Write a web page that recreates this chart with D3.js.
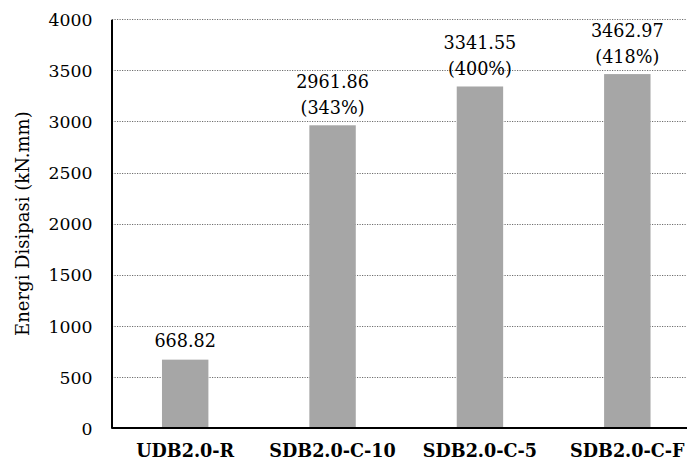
<!DOCTYPE html>
<html>
<head>
<meta charset="utf-8">
<script src="https://cdn.jsdelivr.net/npm/d3@7"></script>
<style>
  html, body { margin: 0; padding: 0; background: #fff; }
  svg { display: block; }
</style>
</head>
<body>
<script>
const categories = ["UDB2.0-R", "SDB2.0-C-10", "SDB2.0-C-5", "SDB2.0-C-F"];
const values = [668.82, 2961.86, 3341.55, 3462.97];
const percentLabels = ["", "(343%)", "(400%)", "(418%)"];
const yTicks = [0, 500, 1000, 1500, 2000, 2500, 3000, 3500, 4000];
const yTitle = "Energi Disipasi (kN.mm)";

const W = 687, H = 462;
const font = "'DejaVu Serif', serif";

const svg = d3.select("body").append("svg").attr("width", W).attr("height", H);

const x = d3.scaleBand().domain(categories).range([111.5, 701]).paddingInner(0.685).paddingOuter(0.3425);
const y = d3.scaleLinear().domain([0, 4000]).range([428, 19.2]);

// gridlines
svg.append("g").selectAll("line").data(yTicks.filter(t => t > 0)).join("line")
  .attr("x1", 112).attr("x2", W)
  .attr("y1", d => Math.round(y(d)) + 0.5).attr("y2", d => Math.round(y(d)) + 0.5)
  .attr("stroke", "#6e6e6e").attr("stroke-width", 1).attr("stroke-dasharray", "1.2,1.3");

// bars
svg.append("g").selectAll("rect").data(values).join("rect")
  .attr("x", (d, i) => x(categories[i]))
  .attr("width", x.bandwidth())
  .attr("y", d => y(d))
  .attr("height", d => y(0) - y(d))
  .attr("fill", "#a6a6a6");

// y axis
const yAxis = d3.axisLeft(y).tickValues(yTicks).tickFormat(d3.format("d")).tickSize(0).tickPadding(19);
const gy = svg.append("g").attr("transform", "translate(111.5,0)").call(yAxis);
gy.select(".domain").attr("stroke", "#000").attr("stroke-width", 2);
gy.selectAll("text").attr("font-family", font).attr("font-size", 17.3).attr("fill", "#000").attr("dy", "0.36em");

// x axis
const xAxis = d3.axisBottom(x).tickSize(0).tickPadding(17);
const gx = svg.append("g").attr("transform", "translate(0,428)").call(xAxis);
gx.select(".domain").attr("stroke", "#000").attr("stroke-width", 2).attr("d", `M111.5,0H${W}`);
gx.selectAll("text").attr("font-family", font).attr("font-size", 17.6).attr("font-weight", "bold").attr("fill", "#000");

// value labels
const lbl = svg.append("g").attr("font-family", font).attr("font-size", 17.6).attr("fill", "#000").attr("text-anchor", "middle");
values.forEach((v, i) => {
  const cx = x(categories[i]) + x.bandwidth() / 2;
  const top = y(v);
  const t = lbl.append("text").attr("x", cx);
  if (percentLabels[i]) {
    t.append("tspan").attr("x", cx).attr("y", top - 37).text(d3.format(".2f")(v));
    t.append("tspan").attr("x", cx).attr("y", top - 11).text(percentLabels[i]);
  } else {
    t.append("tspan").attr("x", cx).attr("y", top - 12.5).text(d3.format(".2f")(v));
  }
});

// y title
svg.append("text")
  .attr("transform", `translate(29,${(y(0) + y(4000)) / 2}) rotate(-90)`)
  .attr("text-anchor", "middle")
  .attr("font-family", font).attr("font-size", 18).attr("fill", "#000")
  .text(yTitle);
</script>
</body>
</html>
